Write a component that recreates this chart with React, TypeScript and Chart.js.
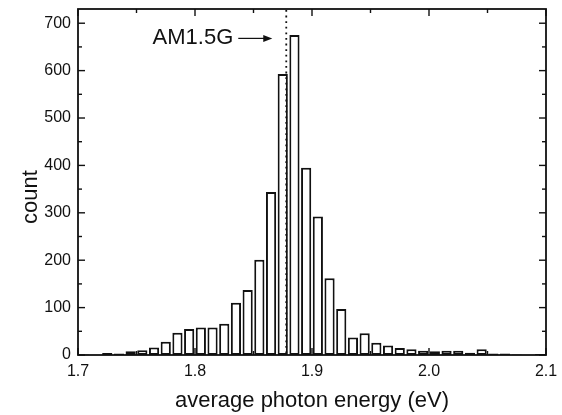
import { useEffect, useRef } from "react";
import { Chart, registerables } from "chart.js";

Chart.register(...registerables);

// Bin centres (eV), 0.01 eV wide bins
const binCenters = [
  1.705, 1.715, 1.725, 1.735, 1.745, 1.755, 1.765, 1.775, 1.785, 1.795,
  1.805, 1.815, 1.825, 1.835, 1.845, 1.855, 1.865, 1.875, 1.885, 1.895,
  1.905, 1.915, 1.925, 1.935, 1.945, 1.955, 1.965, 1.975, 1.985, 1.995,
  2.005, 2.015, 2.025, 2.035, 2.045, 2.055, 2.065, 2.075, 2.085, 2.095,
];
const counts = [
  1, 0, 4, 3, 8, 10, 16, 28, 47, 55,
  58, 58, 66, 110, 137, 201, 344, 593, 675, 395,
  292, 162, 97, 37, 46, 26, 20, 15, 12, 9,
  8, 9, 9, 5, 12, 3, 3, 1, 0, 2,
];

const xMajorTicks = [1.7, 1.8, 1.9, 2.0, 2.1];
const xTickLabels = ["1.7", "1.8", "1.9", "2.0", "2.1"];
const xMinorTicks = [1.75, 1.85, 1.95, 2.05];
const yMajorTicks = [0, 100, 200, 300, 400, 500, 600, 700];
const yMinorTicks = [50, 150, 250, 350, 450, 550, 650];

const markerEnergy = 1.878;
const markerCount = 668;
const markerLabel = "AM1.5G";
const xTitle = "average photon energy (eV)";
const yTitle = "count";

const FONT = "'Liberation Sans', Arial, Helvetica, sans-serif";
const INK = "#111";

const framePlugin = {
  id: "frameTicks",
  afterDatasetsDraw(chart: any) {
    const { ctx, chartArea: a, scales } = chart;
    const x = scales.x;
    const y = scales.y;
    const line = (x1: number, y1: number, x2: number, y2: number) => {
      ctx.beginPath();
      ctx.moveTo(x1, y1);
      ctx.lineTo(x2, y2);
      ctx.stroke();
    };
    ctx.save();
    ctx.strokeStyle = INK;
    ctx.lineWidth = 1.8;
    ctx.setLineDash([]);
    ctx.strokeRect(a.left, a.top, a.right - a.left, a.bottom - a.top);

    // inward ticks
    ctx.lineWidth = 1.4;
    const tickX = (vals: number[], len: number) => {
      vals.forEach((v) => {
        const px = x.getPixelForValue(v);
        line(px, a.bottom, px, a.bottom - len);
        line(px, a.top, px, a.top + len);
      });
    };
    const tickY = (vals: number[], len: number) => {
      vals.forEach((v) => {
        const py = y.getPixelForValue(v);
        line(a.left, py, a.left + len, py);
        line(a.right, py, a.right - len, py);
      });
    };
    tickX(xMajorTicks, 7);
    tickX(xMinorTicks, 4);
    tickY(yMajorTicks, 7);
    tickY(yMinorTicks, 4);

    // dotted marker line
    const mx = x.getPixelForValue(markerEnergy);
    ctx.lineWidth = 1.8;
    ctx.setLineDash([1.8, 3.8]);
    line(mx, a.top + 1, mx, a.bottom);
    ctx.setLineDash([]);

    // annotation text + arrow
    const my = y.getPixelForValue(markerCount);
    ctx.fillStyle = INK;
    ctx.font = `22px ${FONT}`;
    ctx.textAlign = "right";
    ctx.textBaseline = "middle";
    ctx.fillText(markerLabel, mx - 53, my);
    const tip = mx - 14;
    ctx.lineWidth = 1.2;
    line(mx - 48, my, tip - 6, my);
    ctx.beginPath();
    ctx.moveTo(tip, my);
    ctx.lineTo(tip - 9, my - 3.5);
    ctx.lineTo(tip - 9, my + 3.5);
    ctx.closePath();
    ctx.fill();

    // axis titles
    ctx.font = `22px ${FONT}`;
    ctx.textAlign = "center";
    ctx.textBaseline = "alphabetic";
    ctx.fillText(xTitle, (a.left + a.right) / 2, 407);
    ctx.save();
    ctx.translate(37, 197);
    ctx.rotate(-Math.PI / 2);
    ctx.fillText(yTitle, 0, 0);
    ctx.restore();

    ctx.restore();
  },
};

export default function App() {
  const ref = useRef<HTMLCanvasElement | null>(null);
  useEffect(() => {
    if (!ref.current) return;
    const chart = new Chart(ref.current, {
      type: "bar",
      data: {
        datasets: [
          {
            data: binCenters.map((c, i) => ({ x: c, y: counts[i] })),
            backgroundColor: "#ffffff",
            borderColor: INK,
            borderWidth: 2,
            borderSkipped: false,
            barPercentage: 0.87,
            categoryPercentage: 1,
          } as any,
        ],
      },
      options: {
        animation: false,
        responsive: false,
        devicePixelRatio: 1,
        layout: { padding: { top: 9, right: 16, left: 0, bottom: 0 } },
        plugins: {
          legend: { display: false },
          tooltip: { enabled: false },
        },
        scales: {
          x: {
            type: "linear",
            min: 1.7,
            max: 2.1,
            offset: false,
            grid: { display: false, drawTicks: false },
            border: { display: false },
            afterBuildTicks: (s: any) => {
              s.ticks = xMajorTicks.map((v) => ({ value: v }));
            },
            ticks: {
              padding: 7,
              color: INK,
              font: { family: FONT, size: 16 },
              maxRotation: 0,
              autoSkip: false,
              callback: (v: any) => {
                const i = xMajorTicks.findIndex((t) => Math.abs(t - Number(v)) < 1e-6);
                return i >= 0 ? xTickLabels[i] : null;
              },
            },
            afterFit: (s: any) => {
              s.height = 60;
              s.paddingLeft = 0;
              s.paddingRight = 0;
            },
          },
          y: {
            min: 0,
            max: 730,
            grid: { display: false, drawTicks: false },
            border: { display: false },
            afterBuildTicks: (s: any) => {
              s.ticks = yMajorTicks.map((v) => ({ value: v }));
            },
            ticks: {
              padding: 7,
              color: INK,
              autoSkip: false,
              font: { family: FONT, size: 16 },
              callback: (v: any) => String(v),
            },
            afterFit: (s: any) => {
              s.width = 78;
              s.paddingTop = 0;
              s.paddingBottom = 0;
            },
          },
        },
      },
      plugins: [framePlugin],
    });
    return () => chart.destroy();
  }, []);
  return (
    <div style={{ position: "absolute", left: 0, top: 0, width: 562, height: 415 }}>
      <canvas ref={ref} width={562} height={415} />
    </div>
  );
}
